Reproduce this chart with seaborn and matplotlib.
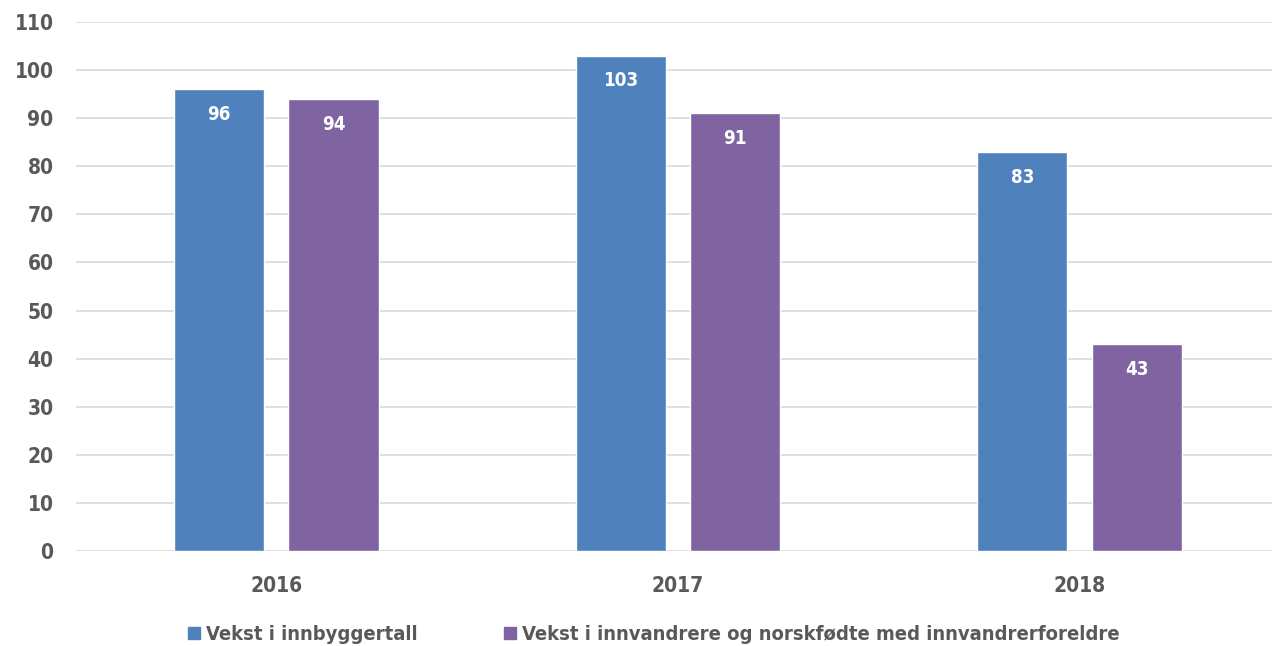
import pandas as pd
import matplotlib.pyplot as plt
import seaborn as sns
from matplotlib.patches import Patch

# Data
years = ["2016", "2017", "2018"]
series_names = ["Vekst i innbyggertall",
                "Vekst i innvandrere og norskfødte med innvandrerforeldre"]
vekst_innbyggere = [96, 103, 83]
vekst_innvandrere = [94, 91, 43]
colors = ["#4F81BD", "#8064A2"]

df = pd.DataFrame({
    "År": years * 2,
    "Serie": [series_names[0]] * 3 + [series_names[1]] * 3,
    "Verdi": vekst_innbyggere + vekst_innvandrere,
})

sns.set_style("white")
plt.rcParams["font.family"] = ["DejaVu Sans"]
plt.rcParams["font.stretch"] = "condensed"
grey = "#595959"

fig = plt.figure(figsize=(12.72, 6.46), dpi=100)
ax = fig.add_axes([0.0595, 0.147, 0.947, 0.819])

sns.barplot(data=df, x="År", y="Verdi", hue="Serie", palette=colors,
            width=0.57, gap=0.21, saturation=1, legend=False, ax=ax)

# Verdier inne i søylene
for cont in ax.containers:
    ax.bar_label(cont, labels=[f"{v:.0f}" for v in cont.datavalues],
                 padding=-25, color="white", fontsize=13.5, fontweight="bold")

ax.set_ylim(0, 110)
ax.set_yticks(range(0, 111, 10))
ax.yaxis.grid(True, color="#D9D9D9", linewidth=1.2)
ax.set_axisbelow(True)
for s in ax.spines.values():
    s.set_visible(False)
ax.tick_params(axis="both", length=0, labelsize=15, labelcolor=grey)
ax.tick_params(axis="x", pad=18)
ax.tick_params(axis="y", pad=16)
for lab in ax.get_xticklabels() + ax.get_yticklabels():
    lab.set_fontweight("bold")
ax.set_xlabel("")
ax.set_ylabel("")

handles = [Patch(color=c) for c in colors]
leg = fig.legend(handles, series_names, loc="lower center", ncol=2,
                 bbox_to_anchor=(0.514, -0.025), frameon=False,
                 handlelength=0.6, handleheight=0.6, handletextpad=0.3,
                 columnspacing=4.3, prop={"size": 14.5, "weight": "bold"})
for t in leg.get_texts():
    t.set_color(grey)

plt.savefig("out.png", dpi=100)
